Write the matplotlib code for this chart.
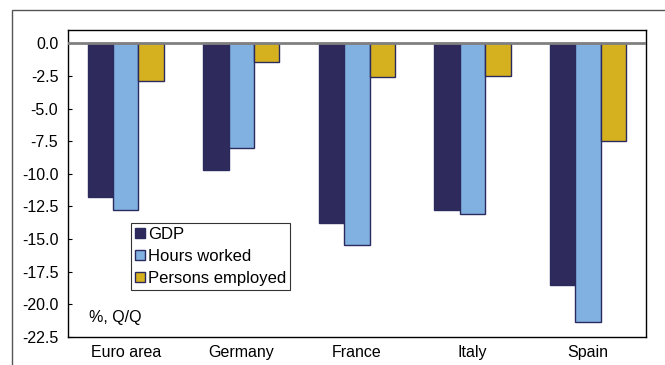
import matplotlib
matplotlib.use("Agg")
import matplotlib.pyplot as plt
from matplotlib.patches import Rectangle
import numpy as np

plt.rcParams['font.family'] = ['Liberation Sans', 'DejaVu Sans']

categories = ["Euro area", "Germany", "France", "Italy", "Spain"]
gdp = [-11.8, -9.7, -13.8, -12.8, -18.5]
hours_worked = [-12.8, -8.0, -15.5, -13.1, -21.4]
persons_employed = [-2.9, -1.4, -2.6, -2.5, -7.5]
series_names = ["GDP", "Hours worked", "Persons employed"]
yticks = [0.0, -2.5, -5.0, -7.5, -10.0, -12.5, -15.0, -17.5, -20.0, -22.5]

colors = ["#2e2a5c", "#80b1e1", "#d6b11f"]
edge = "#2b2a5e"

fig = plt.figure(figsize=(6.65, 3.65), dpi=100)
ax = fig.add_axes([68/665, 1-336.7/365, (645.7-68)/665, (336.7-30)/365])

# outer frame
fig.patches.append(Rectangle((12/665, -0.1), 1.0, 1-10/365+0.1, transform=fig.transFigure,
                             fill=False, edgecolor="#555555", lw=1.0))

x = np.arange(len(categories))
w = 0.22
for i, (vals, name) in enumerate(zip([gdp, hours_worked, persons_employed], series_names)):
    ax.bar(x + (i-1)*w, vals, width=w, color=colors[i], edgecolor=edge, lw=1.0,
           label=name, zorder=2)

ax.axhline(0, color="#808080", lw=2, zorder=3)

ax.set_xlim(-0.5, len(categories)-0.5)
ax.set_ylim(-22.5, 1.03)
ax.set_yticks(yticks)
ax.set_yticklabels([f"{v:.1f}" for v in yticks])
ax.set_xticks(x)
ax.set_xticklabels(categories)
ax.tick_params(axis='y', direction='in', length=3, labelsize=11.5, pad=7)
ax.tick_params(axis='x', length=0, labelsize=11.5, pad=6)
for s in ax.spines.values():
    s.set_color("black")
    s.set_linewidth(1.0)

leg = ax.legend(loc='upper left', bbox_to_anchor=(0.109, 0.371), borderaxespad=0,
                frameon=True, fancybox=False, edgecolor="black", fontsize=12,
                handlelength=0.6, handleheight=0.6, handletextpad=0.15,
                labelspacing=0.42, borderpad=0.25)
leg.get_frame().set_linewidth(0.8)

ax.text(0.036, 0.064, "%, Q/Q", transform=ax.transAxes, fontsize=11.5,
        ha='left', va='center')

fig.savefig("out.png", dpi=100)
